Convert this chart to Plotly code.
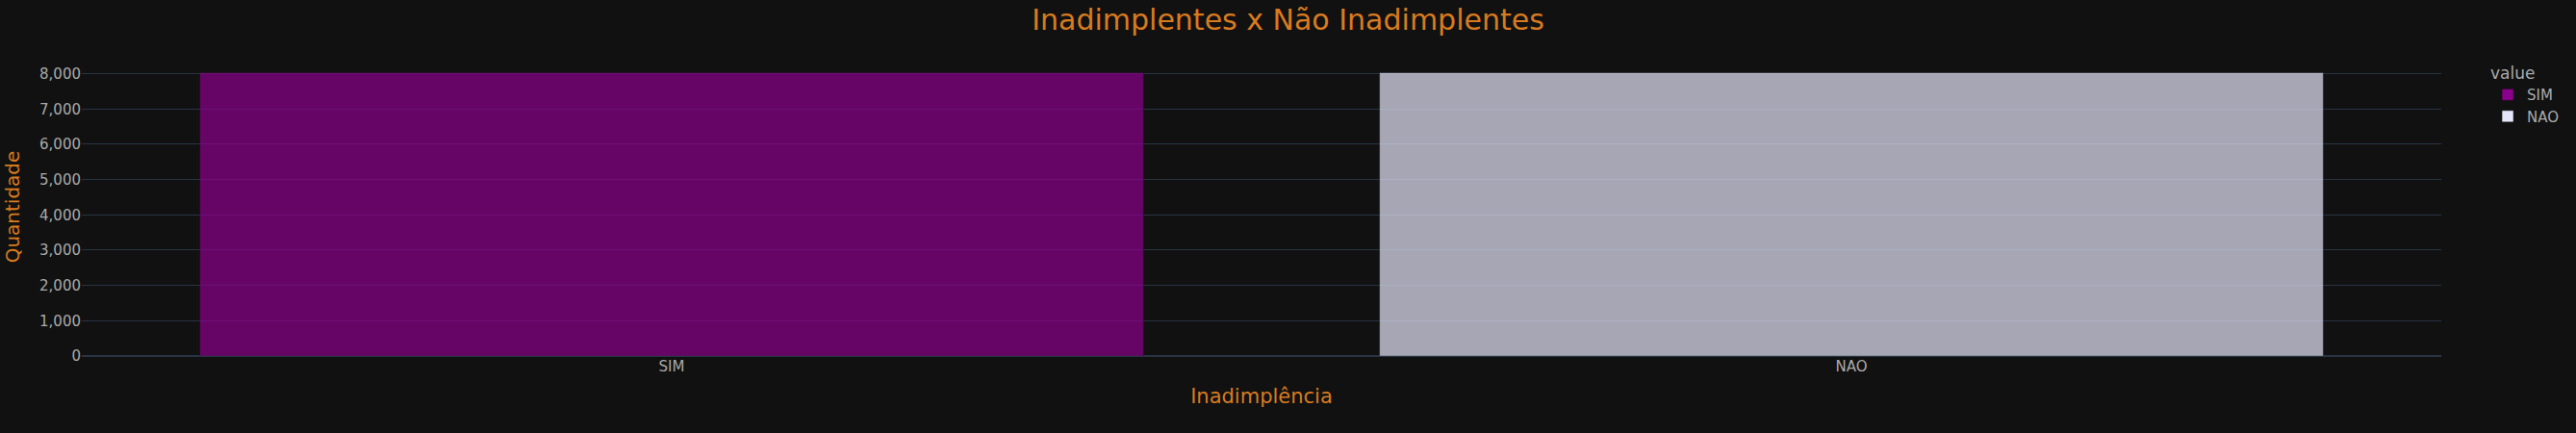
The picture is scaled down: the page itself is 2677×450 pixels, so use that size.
import plotly.graph_objects as go

categories = ["SIM", "NAO"]
counts = [8030, 8030]
colors = ["darkmagenta", "lavender"]

ORANGE = "#d87b1f"
GRAY = "#aaaaaa"
FONT = "DejaVu Sans, Verdana, sans-serif"

fig = go.Figure()
for cat, cnt, col in zip(categories, counts, colors):
    fig.add_trace(go.Bar(
        x=[cat], y=[cnt], name=cat,
        marker=dict(color=col, opacity=0.7),
    ))

fig.update_layout(
    template="plotly_dark",
    width=2677, height=450,
    barmode="relative",
    bargap=0.2,
    font=dict(family=FONT, size=15, color=GRAY),
    title=dict(text="Inadimplentes x Não Inadimplentes", x=0.5, xanchor="center",
               y=0.955, yanchor="middle",
               font=dict(family=FONT, size=30, color=ORANGE)),
    margin=dict(l=80, r=80, t=60, b=80),
    legend=dict(title=dict(text="value", font=dict(size=17, color=GRAY)),
                font=dict(size=15, color=GRAY)),
    xaxis=dict(title=dict(text="Inadimplência", font=dict(size=21, color=ORANGE)),
               tickfont=dict(size=15, color=GRAY)),
    yaxis=dict(title=dict(text="Quantidade", font=dict(size=20, color=ORANGE)),
               tickformat=",", dtick=1000, tickfont=dict(size=15, color=GRAY)),
)

fig.write_html(
    "out.html",
    config={"displayModeBar": False},
    post_script="document.body.style.margin='0';document.body.style.overflow='hidden';document.body.style.background='#111111';",
)
